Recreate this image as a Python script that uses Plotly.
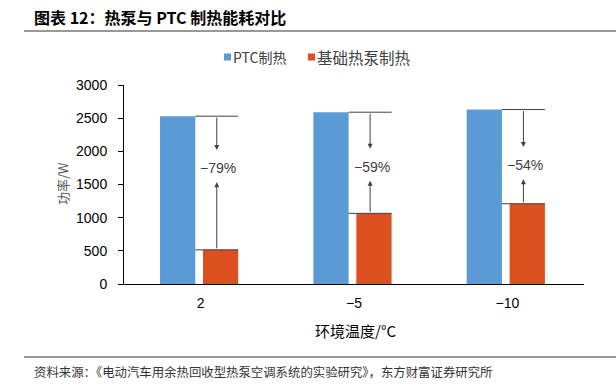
import plotly.graph_objects as go

categories = ["2", "−5", "−10"]
ptc_values = [2530, 2590, 2630]
heatpump_values = [515, 1065, 1210]
change_labels = ["−79%", "−59%", "−54%"]
label_y = [1750, 1770, 1795]
series_names = ["PTC制热", "基础热泵制热"]

BLUE = "#5B9BD5"
ORANGE = "#DC4F1F"
LINE = "#404040"
CJK = "Noto Sans CJK SC"
LAT = "Liberation Sans"

ML, MR, MT, MB = 124, 32, 85, 104
PW, PH = 616 - ML - MR, 388 - MT - MB


def px(x):
    return (x - ML) / PW


def py(y):
    return 1 - (y - MT) / PH


xpos = list(range(len(categories)))
W = 0.23
fig = go.Figure()
fig.add_trace(go.Bar(x=xpos, y=ptc_values, name=series_names[0], marker_color=BLUE,
                     width=W, offset=-0.265, marker_line_width=0, showlegend=False))
fig.add_trace(go.Bar(x=xpos, y=heatpump_values, name=series_names[1], marker_color=ORANGE,
                     width=W, offset=0.015, marker_line_width=0, showlegend=False))

shapes = []
annotations = []
for i, (p, h, lab, ly) in enumerate(zip(ptc_values, heatpump_values, change_labels, label_y)):
    x0 = i - 0.035
    x1 = i + 0.245
    xm = (x0 + x1) / 2
    shapes.append(dict(type="line", xref="x", yref="y", x0=x0, x1=x1, y0=p, y1=p,
                       line=dict(color=LINE, width=1)))
    shapes.append(dict(type="line", xref="x", yref="y", x0=x0, x1=x1, y0=h, y1=h,
                       line=dict(color=LINE, width=1)))
    annotations.append(dict(x=xm, y=ly + 270, ax=xm, ay=p, xref="x", yref="y",
                            axref="x", ayref="y", text="", showarrow=True,
                            arrowhead=2, arrowsize=1, arrowwidth=1, arrowcolor=LINE))
    annotations.append(dict(x=xm, y=ly - 215, ax=xm, ay=h, xref="x", yref="y",
                            axref="x", ayref="y", text="", showarrow=True,
                            arrowhead=2, arrowsize=1, arrowwidth=1, arrowcolor=LINE))
    annotations.append(dict(x=xm + 0.01, y=ly, xref="x", yref="y", text=lab, showarrow=False,
                            font=dict(family=LAT, size=14, color=LINE)))

# title and source
annotations.append(dict(x=px(32), y=py(17), xref="paper", yref="paper",
                        text="<b>图表 12：热泵与 PTC 制热能耗对比</b>",
                        showarrow=False, xanchor="left", yanchor="middle",
                        font=dict(family=CJK, size=16, color="#000000")))
annotations.append(dict(x=px(32), y=py(372), xref="paper", yref="paper",
                        text="资料来源：《电动汽车用余热回收型热泵空调系统的实验研究》，东方财富证券研究所",
                        showarrow=False, xanchor="left", yanchor="middle",
                        font=dict(family=CJK, size=12.4, color="#333333")))
# axis titles
annotations.append(dict(x=px(355), y=py(330), xref="paper", yref="paper", text="环境温度/°C",
                        showarrow=False, xanchor="center", yanchor="middle",
                        font=dict(family=CJK, size=15, color="#000000")))
annotations.append(dict(x=px(62), y=py(184), xref="paper", yref="paper", text="功率/W",
                        showarrow=False, xanchor="center", yanchor="middle", textangle=-90,
                        font=dict(family=CJK, size=13, color="#595959")))

# manual legend
legend_items = [(series_names[0], BLUE, 224, 14), (series_names[1], ORANGE, 308, 15.5)]
for name, col, xs, fs in legend_items:
    shapes.append(dict(type="rect", xref="paper", yref="paper",
                       x0=px(xs), x1=px(xs + 7), y0=py(60.5), y1=py(53.5),
                       fillcolor=col, line=dict(width=0)))
    annotations.append(dict(x=px(xs + 7), y=py(57), xref="paper", yref="paper", text=name,
                            showarrow=False, xanchor="left", yanchor="middle",
                            font=dict(family=CJK, size=fs, color="#404040")))

for ypix in (31, 357):
    shapes.append(dict(type="line", xref="paper", yref="paper",
                       x0=px(24), x1=px(616), y0=py(ypix), y1=py(ypix),
                       line=dict(color="#333333", width=1)))

fig.update_layout(
    width=616, height=388,
    margin=dict(l=ML, r=MR, t=MT, b=MB, autoexpand=False),
    paper_bgcolor="white", plot_bgcolor="white",
    showlegend=False,
    shapes=shapes, annotations=annotations,
    xaxis=dict(range=[-0.5, 2.5], tickvals=xpos, ticktext=categories,
               showline=True, linecolor="#000000", linewidth=1, ticks="",
               showgrid=False, zeroline=False, automargin=False, ticklabelstandoff=6,
               tickfont=dict(family=LAT, size=14, color="#000000")),
    yaxis=dict(range=[0, 3000], tickvals=[0, 500, 1000, 1500, 2000, 2500, 3000],
               showline=True, linecolor="#000000", linewidth=1, ticks="outside",
               ticklen=5, tickcolor="#000000", showgrid=False, zeroline=False,
               automargin=False, ticklabelstandoff=8,
               tickfont=dict(family=LAT, size=14, color="#000000")),
)

fig.write_html("out.html", config={"displayModeBar": False},
               post_script="document.body.style.margin='0px';")
